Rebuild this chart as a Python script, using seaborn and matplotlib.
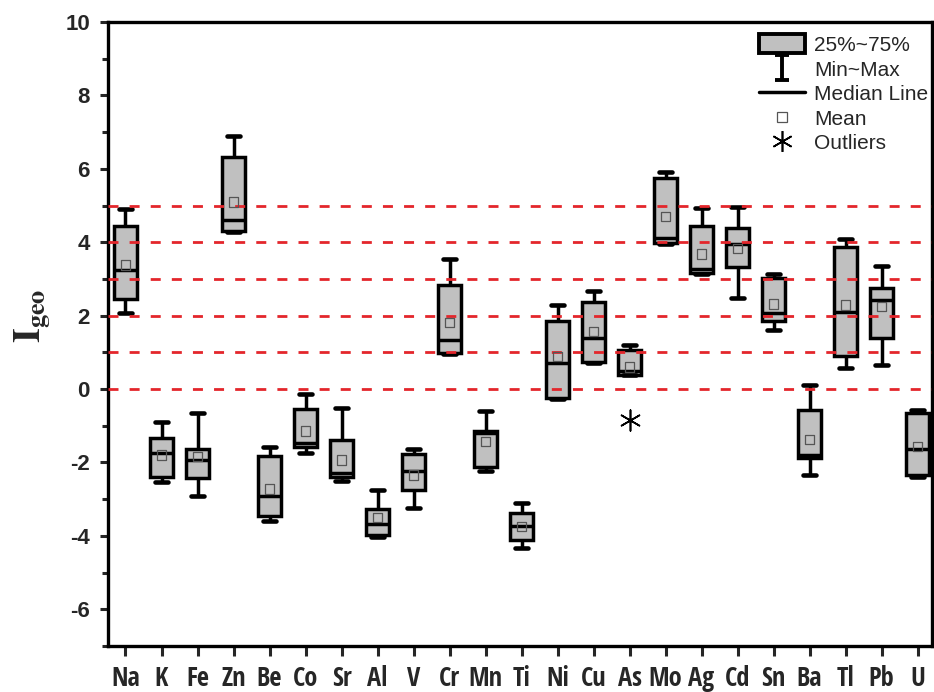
import numpy as np
import pandas as pd
import seaborn as sns
import matplotlib
matplotlib.use("Agg")
import matplotlib.pyplot as plt
from matplotlib import font_manager
from matplotlib.patches import Patch
from matplotlib.lines import Line2D
from matplotlib.path import Path

elements = ["Na", "K", "Fe", "Zn", "Be", "Co", "Sr", "Al", "V", "Cr", "Mn", "Ti",
            "Ni", "Cu", "As", "Mo", "Ag", "Cd", "Sn", "Ba", "Tl", "Pb", "U"]
mins = [2.07, -2.54, -2.91, 4.27, -3.60, -1.73, -2.50, -4.02, -3.23, 0.96, -2.23, -4.34,
        -0.28, 0.72, 0.38, 3.96, 3.13, 2.47, 1.61, -2.34, 0.58, 0.65, -2.39]
q1 = [2.45, -2.39, -2.41, 4.31, -3.45, -1.59, -2.39, -3.98, -2.75, 0.97, -2.13, -4.11,
      -0.25, 0.74, 0.39, 3.98, 3.15, 3.32, 1.86, -1.89, 0.90, 1.40, -2.34]
medians = [3.24, -1.73, -1.93, 4.60, -2.91, -1.48, -2.30, -3.68, -2.23, 1.35, -1.21, -3.72,
           0.72, 1.38, 0.50, 4.12, 3.26, 3.95, 2.06, -1.80, 2.11, 2.43, -1.63]
q3 = [4.45, -1.34, -1.64, 6.33, -1.82, -0.55, -1.39, -3.28, -1.77, 2.83, -1.14, -3.37,
      1.85, 2.38, 1.07, 5.74, 4.45, 4.38, 3.03, -0.57, 3.86, 2.76, -0.64]
maxs = [4.90, -0.91, -0.65, 6.89, -1.59, -0.14, -0.51, -2.75, -1.64, 3.53, -0.60, -3.10,
        2.29, 2.68, 1.19, 5.92, 4.94, 4.97, 3.13, 0.10, 4.08, 3.35, -0.58]
means = [3.38, -1.80, -1.84, 5.10, -2.72, -1.14, -1.93, -3.50, -2.34, 1.81, -1.42, -3.75,
         0.88, 1.56, 0.60, 4.70, 3.68, 3.83, 2.32, -1.38, 2.29, 2.24, -1.56]
outlier_elements = ["As"]
outlier_values = [-0.85]
threshold_levels = [0, 1, 2, 3, 4, 5]
yticks = [-6, -4, -2, 0, 2, 4, 6, 8, 10]

# long table: five summary values per element -> seaborn computes the same quartiles
rows = []
for e, a, b, c, d, f in zip(elements, mins, q1, medians, q3, maxs):
    for v in (a, b, c, d, f):
        rows.append({"element": e, "Igeo": v})
df = pd.DataFrame(rows)
mean_df = pd.DataFrame({"element": elements, "Igeo": means})
out_df = pd.DataFrame({"element": outlier_elements, "Igeo": outlier_values})

sns.set_theme(style="ticks")
plt.rcParams["font.family"] = ["Liberation Sans", "DejaVu Sans"]
plt.rcParams["mathtext.fontset"] = "stix"
plt.rcParams["axes.unicode_minus"] = False

# look for a narrow bold sans (like Arial Narrow) for the category labels
narrow_prop = None
for f in font_manager.fontManager.ttflist:
    if f.name in ("Liberation Sans Narrow", "Roboto Condensed", "Open Sans Condensed",
                  "Arial Narrow") and f.weight in ("bold", 700):
        narrow_prop = font_manager.FontProperties(fname=f.fname, size=19)
        break

fig = plt.figure(figsize=(9.34, 6.92), dpi=100)
ax = fig.add_axes([108 / 934, 1 - 646 / 692, (932 - 108) / 934, (646 - 22) / 692])

lw = 2.5
sns.boxplot(data=df, x="element", y="Igeo", order=elements, whis=(0, 100),
            color="#c0c0c0", saturation=1, linecolor="black", linewidth=lw,
            width=0.66, capwidths=0.38, showfliers=False, ax=ax,
            boxprops=dict(zorder=2), medianprops=dict(linewidth=lw),
            capprops=dict(linewidth=lw + 0.8), whiskerprops=dict(linewidth=lw))

for lvl in threshold_levels:
    ax.axhline(lvl, color="#e3262b", lw=2.0, ls=(0, (3.6, 4.0)), zorder=4)

sns.scatterplot(data=mean_df, x="element", y="Igeo", marker="s", s=45,
                facecolor="none", edgecolor="#555555", linewidth=0.9, zorder=5, ax=ax)
sns.scatterplot(data=out_df, x="element", y="Igeo", marker=(6, 2, 0), s=220,
                color="black", linewidth=1.2, zorder=5, ax=ax)

ax.set_xlim(-0.486, 22.40)
ax.set_ylim(-7, 10)
ax.set_yticks(yticks)
ax.set_yticks(np.arange(-7, 10, 2), minor=True)
ax.set_xlabel("")
ax.set_ylabel(r"$\mathbf{I}_{\mathbf{geo}}$", fontsize=27)
ax.yaxis.set_label_coords(-0.068, 0.53)

for s in ax.spines.values():
    s.set_linewidth(2.4)
    s.set_color("black")
ax.tick_params(axis="y", which="major", direction="out", length=6, width=2.2,
               labelsize=16, pad=7, right=False)
ax.tick_params(axis="y", which="minor", direction="out", length=4, width=2.2, right=False)
ax.tick_params(axis="x", which="major", direction="out", length=7, width=2.2,
               labelsize=17.5, pad=7, top=False)
for t in ax.get_yticklabels():
    t.set_fontweight("bold")
for t in ax.get_xticklabels():
    if narrow_prop is not None:
        t.set_fontproperties(narrow_prop)
    else:
        t.set_fontweight("bold")

ibeam = Path([(0, -1), (0, 1), (-0.55, 1), (0.55, 1), (-0.55, -1), (0.55, -1)],
             [Path.MOVETO, Path.LINETO, Path.MOVETO, Path.LINETO, Path.MOVETO, Path.LINETO])
handles = [
    Patch(facecolor="#c0c0c0", edgecolor="black", linewidth=2.8),
    Line2D([], [], color="black", marker=ibeam, markersize=18, markeredgewidth=2.8, ls="none"),
    Line2D([], [], color="black", lw=2.5),
    Line2D([], [], color="#555555", marker="s", markerfacecolor="none", markersize=6.5,
           markeredgewidth=0.9, ls="none"),
    Line2D([], [], color="black", marker=(6, 2, 0), markersize=15, markeredgewidth=1.2, ls="none"),
]
labels = ["25%~75%", "Min~Max", "Median Line", "Mean", "Outliers"]
ax.legend(handles, labels, loc="upper right", bbox_to_anchor=(1.011, 1.0),
          frameon=False, fontsize=15, handlelength=2.2, handleheight=1.0,
          labelspacing=0.2, handletextpad=0.45, borderaxespad=0.2)

fig.savefig("out.png", dpi=100)
